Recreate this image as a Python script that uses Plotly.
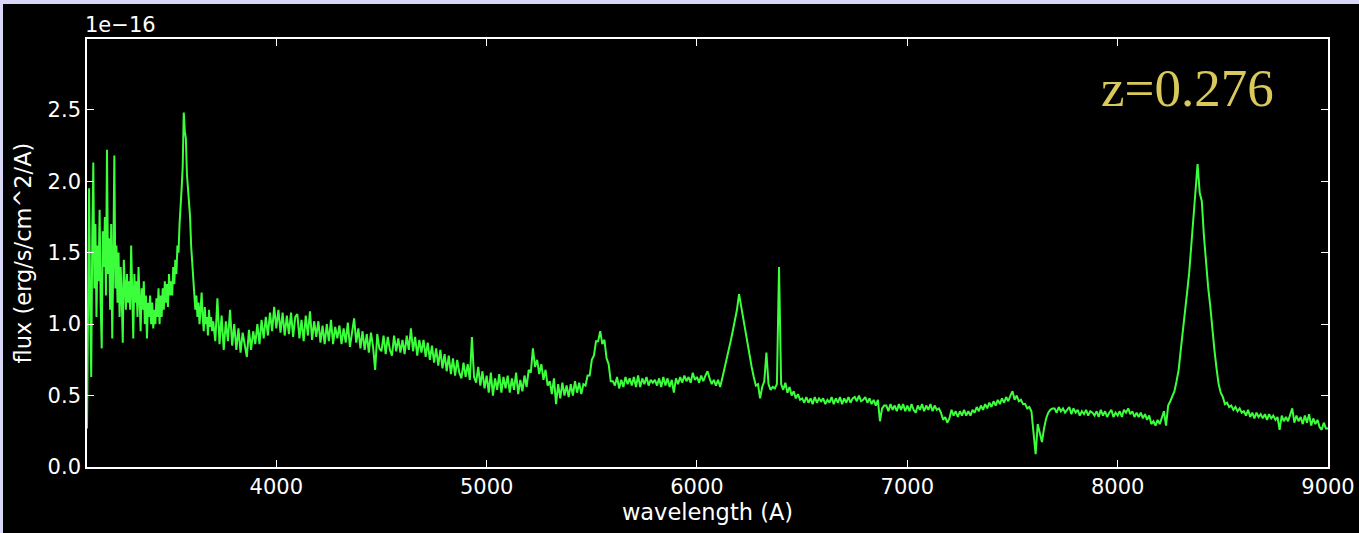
import plotly.graph_objects as go

# Wavelength grid (Angstrom): 5 A sampling in the noisy blue end, 10 A elsewhere
wavelength = list(range(3100, 3700, 5)) + list(range(3700, 9001, 10))

# Flux in units of 1e-16 erg/s/cm^2/A
flux = [
    # 3100-3695 (5 A steps, one row = 100 A)
    0.27, 1.40, 1.95, 1.10, 0.63, 1.60, 2.13, 1.25, 1.70, 1.05, 1.55, 1.30, 1.80, 1.15, 0.83, 1.65, 1.40, 1.75, 1.20, 2.22,
    1.35, 1.60, 1.10, 1.70, 0.90, 1.45, 2.18, 1.25, 1.55, 1.15, 1.50, 1.05, 1.40, 1.20, 0.87, 1.45, 1.30, 1.10, 1.35, 1.15,
    1.30, 1.10, 1.55, 1.20, 0.90, 1.35, 1.15, 1.30, 1.05, 1.40, 1.20, 0.95, 1.25, 1.10, 1.30, 1.00, 1.20, 0.90, 1.15, 1.05,
    1.20, 1.00, 1.15, 0.97, 1.10, 1.00, 1.18, 1.05, 1.25, 1.00, 1.20, 1.05, 1.25, 1.10, 1.30, 1.15, 1.28, 1.12, 1.35, 1.20,
    1.30, 1.20, 1.40, 1.28, 1.45, 1.35, 1.55, 1.50, 1.70, 1.80, 1.95, 2.10, 2.48, 2.35, 2.30, 2.05, 1.95, 1.80, 1.75, 1.55,
    1.45, 1.30, 1.25, 1.10, 1.20, 1.05, 1.15, 1.00, 1.10, 1.22, 1.05, 0.95, 1.12, 1.00, 1.05, 0.92, 1.10, 0.98, 1.05, 0.95,
    # 3700-9000 (10 A steps, one row = 100 A)
    1.02, 0.88, 1.18, 0.86, 1.06, 0.82, 1.02, 0.88, 1.10, 0.85,  # 3700
    1.00, 0.82, 0.97, 0.80, 0.94, 0.84, 0.77, 0.96, 0.82, 0.95,  # 3800
    0.86, 1.00, 0.86, 1.03, 0.90, 1.05, 0.92, 1.08, 0.95, 1.12,  # 3900
    0.97, 1.10, 0.94, 1.08, 0.92, 1.06, 0.93, 1.08, 0.91, 1.05,  # 4000
    1.07, 0.90, 1.03, 0.88, 1.06, 0.92, 1.09, 0.89, 1.02, 0.91,  # 4100
    1.02, 0.87, 0.99, 0.86, 1.00, 0.88, 1.03, 0.86, 0.98, 0.90,  # 4200
    0.99, 0.86, 0.97, 0.87, 1.01, 0.84, 0.96, 1.04, 0.87, 0.97,  # 4300
    0.83, 0.95, 0.82, 0.93, 0.80, 0.94, 0.84, 0.68, 0.93, 0.83,  # 4400
    0.81, 0.92, 0.79, 0.91, 0.82, 0.78, 0.92, 0.81, 0.90, 0.80,  # 4500
    0.89, 0.79, 0.92, 0.82, 0.97, 0.81, 0.91, 0.78, 0.89, 0.80,  # 4600
    0.89, 0.77, 0.87, 0.75, 0.85, 0.73, 0.83, 0.71, 0.82, 0.69,  # 4700
    0.79, 0.67, 0.78, 0.65, 0.76, 0.64, 0.75, 0.66, 0.62, 0.73,  # 4800
    0.63, 0.72, 0.61, 0.91, 0.63, 0.59, 0.70, 0.57, 0.67, 0.55,  # 4900
    0.64, 0.52, 0.66, 0.50, 0.62, 0.54, 0.65, 0.52, 0.63, 0.55,  # 5000
    0.64, 0.52, 0.62, 0.54, 0.66, 0.51, 0.61, 0.53, 0.64, 0.56,  # 5100
    0.68, 0.66, 0.83, 0.70, 0.75, 0.65, 0.72, 0.61, 0.68, 0.57,  # 5200
    0.60, 0.51, 0.62, 0.44, 0.58, 0.48, 0.59, 0.50, 0.57, 0.49,  # 5300
    0.58, 0.50, 0.60, 0.52, 0.59, 0.51, 0.58, 0.57, 0.64, 0.64,  # 5400
    0.75, 0.78, 0.88, 0.88, 0.95, 0.86, 0.89, 0.76, 0.72, 0.60,  # 5500
    0.60, 0.57, 0.63, 0.55, 0.61, 0.56, 0.63, 0.58, 0.62, 0.57,  # 5600
    0.63, 0.56, 0.64, 0.56, 0.62, 0.58, 0.63, 0.57, 0.61, 0.59,  # 5700
    0.61, 0.57, 0.62, 0.56, 0.63, 0.57, 0.62, 0.56, 0.61, 0.52,  # 5800
    0.62, 0.58, 0.63, 0.59, 0.64, 0.60, 0.63, 0.59, 0.66, 0.61,  # 5900
    0.63, 0.59, 0.64, 0.60, 0.64, 0.67, 0.62, 0.58, 0.61, 0.57,  # 6000
    0.61, 0.56, 0.62, 0.68, 0.74, 0.82, 0.88, 0.95, 1.03, 1.10,  # 6100
    1.21, 1.12, 1.05, 0.95, 0.86, 0.78, 0.70, 0.63, 0.57, 0.58,  # 6200
    0.48, 0.56, 0.60, 0.80, 0.58, 0.54, 0.56, 0.55, 0.58, 1.40,  # 6300
    0.58, 0.54, 0.59, 0.52, 0.56, 0.50, 0.53, 0.48, 0.51, 0.47,  # 6400
    0.48, 0.45, 0.49, 0.45, 0.48, 0.44, 0.49, 0.45, 0.48, 0.46,  # 6500
    0.48, 0.44, 0.47, 0.45, 0.49, 0.44, 0.48, 0.45, 0.49, 0.44,  # 6600
    0.48, 0.45, 0.49, 0.45, 0.48, 0.49, 0.46, 0.50, 0.46, 0.47,  # 6700
    0.49, 0.45, 0.48, 0.44, 0.47, 0.43, 0.47, 0.32, 0.41, 0.43,  # 6800
    0.43, 0.39, 0.44, 0.40, 0.43, 0.39, 0.44, 0.40, 0.44, 0.39,  # 6900
    0.43, 0.39, 0.44, 0.40, 0.38, 0.43, 0.40, 0.44, 0.39, 0.43,  # 7000
    0.40, 0.44, 0.39, 0.43, 0.40, 0.41, 0.38, 0.33, 0.35, 0.31,  # 7100
    0.34, 0.40, 0.36, 0.39, 0.35, 0.39, 0.36, 0.40, 0.36, 0.39,  # 7200
    0.36, 0.40, 0.38, 0.42, 0.39, 0.43, 0.40, 0.44, 0.41, 0.45,  # 7300
    0.42, 0.46, 0.43, 0.47, 0.44, 0.48, 0.45, 0.49, 0.46, 0.50,  # 7400
    0.53, 0.47, 0.50, 0.46, 0.47, 0.44, 0.44, 0.41, 0.42, 0.39,  # 7500
    0.26, 0.09, 0.30, 0.24, 0.175, 0.27, 0.34, 0.38, 0.40, 0.41,  # 7600
    0.41, 0.38, 0.42, 0.39, 0.41, 0.38, 0.40, 0.42, 0.37, 0.41,  # 7700
    0.38, 0.40, 0.36, 0.39, 0.37, 0.40, 0.36, 0.39, 0.38, 0.36,  # 7800
    0.39, 0.35, 0.40, 0.36, 0.39, 0.35, 0.38, 0.40, 0.35, 0.38,  # 7900
    0.36, 0.39, 0.35, 0.40, 0.38, 0.41, 0.37, 0.39, 0.35, 0.38,  # 8000
    0.35, 0.38, 0.34, 0.37, 0.33, 0.36, 0.30, 0.32, 0.29, 0.33,  # 8100
    0.30, 0.34, 0.39, 0.29, 0.43, 0.46, 0.50, 0.53, 0.60, 0.68,  # 8200
    0.82, 0.97, 1.08, 1.22, 1.36, 1.54, 1.72, 1.92, 2.12, 1.92,  # 8300
    1.86, 1.62, 1.42, 1.26, 1.13, 0.96, 0.82, 0.69, 0.58, 0.52,  # 8400
    0.49, 0.44, 0.45, 0.42, 0.43, 0.40, 0.42, 0.39, 0.41, 0.38,  # 8500
    0.39, 0.36, 0.40, 0.35, 0.38, 0.34, 0.38, 0.35, 0.37, 0.34,  # 8600
    0.37, 0.33, 0.37, 0.34, 0.36, 0.33, 0.35, 0.26, 0.36, 0.32,  # 8700
    0.35, 0.32, 0.36, 0.41, 0.31, 0.36, 0.32, 0.35, 0.30, 0.36,  # 8800
    0.31, 0.37, 0.29, 0.34, 0.30, 0.33, 0.28, 0.26, 0.31, 0.27,  # 8900
    0.27,                                                        # 9000
]

x_ticks = [4000, 5000, 6000, 7000, 8000, 9000]
y_ticks = [0.0, 0.5, 1.0, 1.5, 2.0, 2.5]
y_tick_labels = ["0.0", "0.5", "1.0", "1.5", "2.0", "2.5"]
redshift_label = "z=0.276"
offset_label = "1e\u221216"

FONT = "DejaVu Sans"
FS = 21
FS_TITLE = 22.5

fig = go.Figure()
fig.add_trace(go.Scatter(
    x=wavelength, y=flux, mode="lines",
    line=dict(color="#3cff3c", width=2),
    hoverinfo="skip", showlegend=False,
))

axis_common = dict(
    showline=True, linecolor="white", linewidth=1.6, mirror="ticks",
    ticks="inside", ticklen=7, tickwidth=1, tickcolor="white",
    showgrid=False, zeroline=False, automargin=False,
    tickfont=dict(family=FONT, size=FS, color="white"),
)

fig.update_layout(
    width=1359, height=533,
    margin=dict(l=87, r=31, t=39, b=66),
    paper_bgcolor="black", plot_bgcolor="black",
    xaxis=dict(range=[3100, 9000], tickvals=x_ticks,
               ticktext=[str(v) for v in x_ticks],
               title=dict(text="wavelength (A)", standoff=6,
                          font=dict(family=FONT, size=FS_TITLE, color="white")),
               **axis_common),
    yaxis=dict(range=[0, 2.995], tickvals=y_ticks, ticktext=y_tick_labels,
               title=dict(text="flux (erg/s/cm^2/A)", standoff=10,
                          font=dict(family=FONT, size=FS_TITLE, color="white")),
               **axis_common),
    annotations=[
        dict(text=offset_label, xref="paper", yref="paper", x=0, y=1.0,
             xanchor="left", yanchor="bottom", showarrow=False, xshift=-4,
             font=dict(family=FONT, size=FS, color="white")),
        dict(text=redshift_label, xref="paper", yref="paper",
             x=(1187 - 87) / 1241, y=(466.7 - 88) / 427.7,
             xanchor="center", yanchor="middle", showarrow=False,
             font=dict(family="Liberation Serif", size=53, color="#d9c95a")),
    ],
    shapes=[
        dict(type="rect", xref="paper", yref="paper",
             x0=-87 / 1241, x1=-84 / 1241, y0=-66 / 427.7, y1=466.7 / 427.7,
             fillcolor="#d8d8f6", line=dict(width=0), layer="below"),
        dict(type="rect", xref="paper", yref="paper",
             x0=-87 / 1241, x1=1.1, y0=(466.7 - 4) / 427.7, y1=466.7 / 427.7,
             fillcolor="#d8d8f6", line=dict(width=0), layer="below"),
    ],
)

fig.write_html("out.html")
